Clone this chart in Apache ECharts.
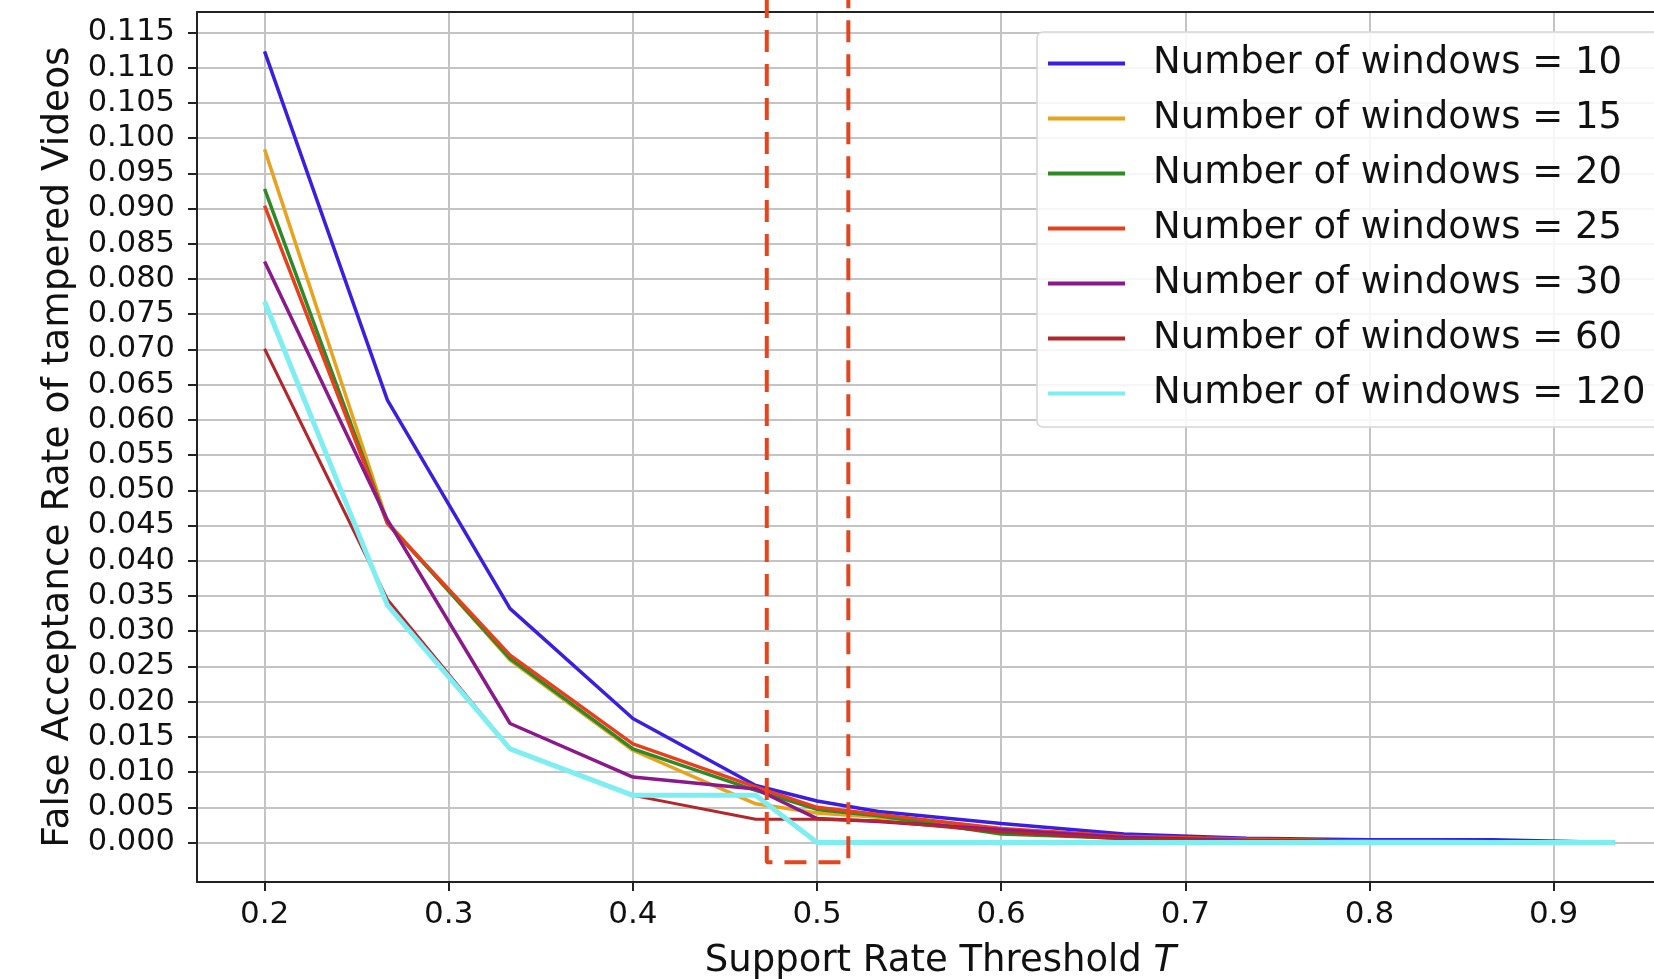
<!DOCTYPE html>
<html>
<head>
<meta charset="utf-8">
<script src="https://cdn.jsdelivr.net/npm/echarts@6/dist/echarts.min.js"></script>
<style>
  html, body { margin: 0; padding: 0; background: #fff; }
  #chart { width: 1654px; height: 979px; }
</style>
</head>
<body>
<div id="chart"></div>
<script>
// support rate thresholds (x)
var thresholds = [0.2, 0.2667, 0.3333, 0.4, 0.4667, 0.5, 0.5333, 0.6, 0.6667, 0.7333, 0.8, 0.8667, 0.9333];

// false acceptance rate per number of windows
var far10  = [0.1123, 0.0628, 0.0332, 0.0176, 0.0081, 0.0059, 0.0044, 0.0027, 0.0012, 0.0006, 0.0004, 0.0004, 0.0000];
var far15  = [0.0984, 0.0455, 0.0259, 0.0131, 0.0055, 0.0042, 0.0036, 0.0018, 0.0008, 0.0004, 0.0002, 0.0001, 0.0000];
var far20  = [0.0928, 0.0453, 0.0261, 0.0133, 0.0074, 0.0047, 0.0038, 0.0012, 0.0006, 0.0004, 0.0002, 0.0001, 0.0000];
var far25  = [0.0904, 0.0453, 0.0266, 0.0140, 0.0079, 0.0050, 0.0040, 0.0020, 0.0009, 0.0005, 0.0002, 0.0001, 0.0000];
var far30  = [0.0825, 0.0458, 0.0169, 0.0093, 0.0076, 0.0034, 0.0030, 0.0018, 0.0007, 0.0003, 0.0001, 0.0001, 0.0000];
var far60  = [0.0701, 0.0345, 0.0133, 0.0067, 0.0033, 0.0033, 0.0031, 0.0015, 0.0005, 0.0003, 0.0001, 0.0001, 0.0000];
var far120 = [0.0768, 0.0337, 0.0133, 0.0067, 0.0067, 0.0000, 0.0000, 0.0000, 0.0000, 0.0000, 0.0000, 0.0000, 0.0000];

var seriesNames = ['Number of windows = 10', 'Number of windows = 15', 'Number of windows = 20',
                   'Number of windows = 25', 'Number of windows = 30', 'Number of windows = 60',
                   'Number of windows = 120'];
var seriesValues = [far10, far15, far20, far25, far30, far60, far120];
var colors = ['#3b1fe0', '#e9a21c', '#2f8a26', '#e8401c', '#8a1a8c', '#b3262a', '#7eeef2'];
var widths = [3.5, 3.5, 3.5, 3.5, 3.5, 3, 5];

// tick labels
var xTicks = [0.2, 0.3, 0.4, 0.5, 0.6, 0.7, 0.8, 0.9];
var yTicks = [];
for (var t = 0; t <= 23; t++) yTicks.push(+(t * 0.005).toFixed(3));

// highlighted threshold box (dashed), in data units
var boxX = [0.4727, 0.4727, 0.517, 0.517];
var boxY = [0.125, -0.0028, -0.0028, 0.125];

var font = 'DejaVu Sans';
var xMin = 0.1633, xMax = 0.9545;

var series = [];
for (var i = 0; i < seriesNames.length; i++) {
    var pts = [];
    for (var j = 0; j < thresholds.length; j++) {
        pts.push([thresholds[j], seriesValues[i][j]]);
    }
    series.push({
        name: seriesNames[i],
        type: 'line',
        data: pts,
        showSymbol: false,
        symbol: 'none',
        lineStyle: { color: colors[i], width: widths[i] },
        itemStyle: { color: colors[i] }
    });
}
var boxPts = [];
for (var k = 0; k < boxX.length; k++) boxPts.push([boxX[k], boxY[k]]);
series.push({
    name: 'box',
    type: 'line',
    data: boxPts,
    symbol: 'none',
    clip: false,
    silent: true,
    z: 5,
    lineStyle: { color: '#e5441d', width: 4, type: [22, 12] }
});

var myChart = echarts.init(document.getElementById('chart'), null, { renderer: 'canvas' });
var option = {
    animation: false,
    backgroundColor: '#fff',
    grid: { left: 197, top: 12, right: 0, bottom: 97, outerBoundsMode: 'none', containLabel: false },
    legend: {
        data: seriesNames,
        orient: 'vertical',
        left: 1037, top: 32,
        icon: 'rect',
        itemWidth: 77, itemHeight: 4,
        itemGap: 18,
        padding: [13, 40, 15, 11],
        backgroundColor: 'rgba(255,255,255,0.85)',
        borderColor: '#d6d6d6', borderWidth: 1.5, borderRadius: 6,
        textStyle: { fontFamily: font, fontSize: 37, color: '#111', padding: [0, 0, 0, 23] }
    },
    xAxis: [{
        type: 'value',
        min: xMin, max: xMax,
        name: 'Support Rate Threshold {i|T}',
        nameLocation: 'middle',
        nameGap: 61,
        nameTextStyle: {
            fontFamily: font, fontSize: 37, color: '#111', padding: [0, 0, 0, 30],
            rich: { i: { fontFamily: font, fontSize: 37, fontStyle: 'italic', color: '#111' } }
        },
        axisLine: { show: true, onZero: false, lineStyle: { color: '#222', width: 2 } },
        axisTick: { show: true, inside: false, length: 9, customValues: xTicks, lineStyle: { color: '#222', width: 2 } },
        axisLabel: {
            customValues: xTicks, margin: 17,
            fontFamily: font, fontSize: 31, color: '#111',
            formatter: function (v) { return v.toFixed(1); }
        },
        splitLine: { show: true, lineStyle: { color: '#c4c4c4', width: 2 } }
    }, {
        type: 'value',
        position: 'top',
        min: xMin, max: xMax,
        axisLine: { show: true, onZero: false, lineStyle: { color: '#222', width: 2 } },
        axisTick: { show: false },
        axisLabel: { show: false },
        splitLine: { show: false }
    }],
    yAxis: {
        type: 'value',
        min: -0.0056, max: 0.1179,
        name: 'False Acceptance Rate of tampered Videos',
        nameLocation: 'middle',
        nameGap: 118,
        nameTextStyle: { fontFamily: font, fontSize: 37.5, color: '#111' },
        axisLine: { show: true, onZero: false, lineStyle: { color: '#222', width: 2 } },
        axisTick: { show: true, inside: false, length: 9, customValues: yTicks, lineStyle: { color: '#222', width: 2 } },
        axisLabel: {
            customValues: yTicks, margin: 22,
            fontFamily: font, fontSize: 30.5, color: '#111',
            formatter: function (v) { return v.toFixed(3); }
        },
        splitLine: { show: true, lineStyle: { color: '#c4c4c4', width: 2 } }
    },
    series: series
};
myChart.setOption(option);
</script>
</body>
</html>
